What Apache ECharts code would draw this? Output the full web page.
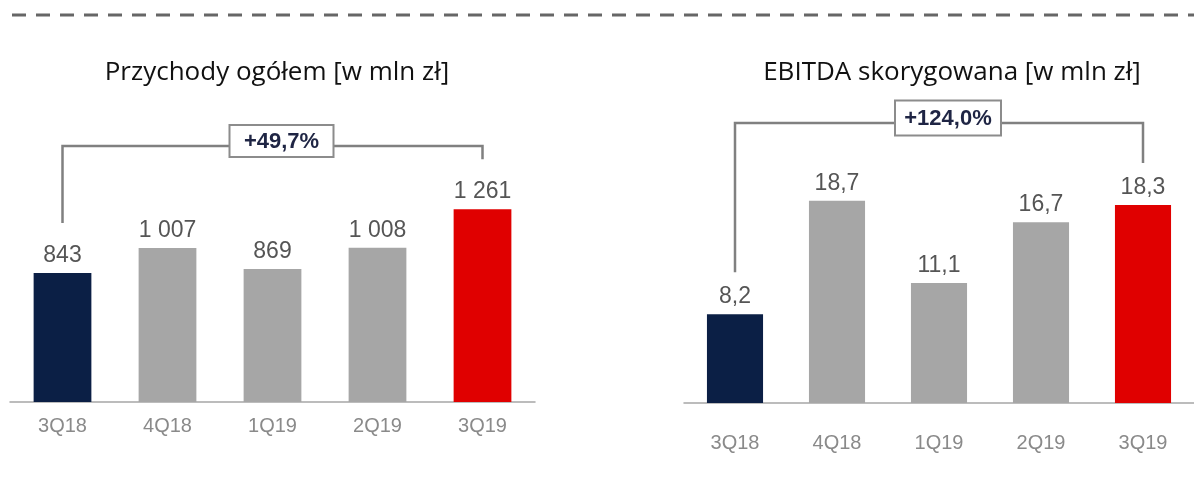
<!DOCTYPE html>
<html>
<head>
<meta charset="utf-8">
<script src="https://cdn.jsdelivr.net/npm/echarts@6/dist/echarts.min.js"></script>
<style>
  html, body { margin: 0; padding: 0; background: #fff; }
  #main { width: 1194px; height: 487px; }
</style>
</head>
<body>
<div id="main"></div>
<script>
var categories = ['3Q18', '4Q18', '1Q19', '2Q19', '3Q19'];
var revenue = [843, 1007, 869, 1008, 1261];
var ebitda = [8.2, 18.7, 11.1, 16.7, 18.3];
var revenueChange = '+49,7%';
var ebitdaChange = '+124,0%';
var barColors = ['#0b1f45', '#a6a6a6', '#a6a6a6', '#a6a6a6', '#e00000'];

// liczby po polsku: spacja tysięcy, przecinek dziesiętny
function fmtInt(v) {
  return String(v).replace(/\B(?=(\d{3})+(?!\d))/g, ' ');
}
function fmtDec(v) {
  return v.toFixed(1).replace('.', ',');
}

function barData(values) {
  return values.map(function (v, i) {
    return { value: v, itemStyle: { color: barColors[i] } };
  });
}

// klamra porównująca pierwszy i ostatni słupek
function bracket(label, gap, levelShift, boxW, boxH) {
  return function (params, api) {
    var a = api.coord([api.value(0), api.value(1)]);
    var b = api.coord([api.value(2), api.value(3)]);
    var level = params.coordSys.y + levelShift;
    var cx = (a[0] + b[0]) / 2 + 9;
    var cy = level - 5;
    return {
      type: 'group',
      children: [{
        type: 'polyline',
        shape: { points: [[a[0], a[1] - gap], [a[0], level], [b[0], level], [b[0], b[1] - gap]] },
        style: { stroke: '#808080', lineWidth: 2.5, fill: null }
      }, {
        type: 'rect',
        shape: { x: cx - boxW / 2, y: cy - boxH / 2, width: boxW, height: boxH },
        style: { fill: '#fff', stroke: '#8c8c8c', lineWidth: 2 }
      }, {
        type: 'text',
        x: cx, y: cy + 1,
        style: {
          text: label, align: 'center', verticalAlign: 'middle',
          font: 'bold 22px "Liberation Sans", Arial, sans-serif', fill: '#1f2544'
        }
      }]
    };
  };
}

var myChart = echarts.init(document.getElementById('main'));

var valueLabel = {
  show: true, position: 'top', distance: 6,
  fontFamily: '"Liberation Sans", Arial, sans-serif', fontSize: 23, color: '#555'
};
var catLabel = {
  fontFamily: '"Liberation Sans", Arial, sans-serif', fontSize: 20, color: '#8a8a8a'
};
var titleStyle = { fontFamily: '"Open Sans", sans-serif', fontSize: 26, fontWeight: 'normal', color: '#111' };

var option = {
  animation: false,
  title: [{
    text: 'Przychody ogółem [w mln zł]', left: 272, top: 55, textAlign: 'center', textStyle: titleStyle
  }, {
    text: 'EBITDA skorygowana [w mln zł]', left: 947, top: 55, textAlign: 'center', textStyle: titleStyle
  }],
  graphic: [{
    type: 'line',
    shape: { x1: 12, y1: 15, x2: 1194, y2: 15 },
    style: { stroke: '#666', lineWidth: 3, lineDash: [14, 10] }
  }],
  grid: [
    { left: 10, width: 525, top: 142, bottom: 85 },
    { left: 684, width: 522, top: 165, bottom: 84 }
  ],
  xAxis: [{
    type: 'category', gridIndex: 0, data: categories,
    axisLine: { lineStyle: { color: '#a6a6a6', width: 1.5 } },
    axisTick: { show: false },
    axisLabel: Object.assign({ margin: 14 }, catLabel)
  }, {
    type: 'category', gridIndex: 1, data: categories,
    axisLine: { lineStyle: { color: '#a6a6a6', width: 1.5 } },
    axisTick: { show: false },
    axisLabel: Object.assign({ margin: 30 }, catLabel)
  }],
  yAxis: [
    { type: 'value', gridIndex: 0, min: 0, max: 1700, show: false },
    { type: 'value', gridIndex: 1, min: 0, max: 22, show: false }
  ],
  series: [{
    type: 'bar', xAxisIndex: 0, yAxisIndex: 0, barWidth: '55%',
    data: barData(revenue),
    label: Object.assign({ formatter: function (p) { return fmtInt(p.value); } }, valueLabel)
  }, {
    type: 'bar', xAxisIndex: 1, yAxisIndex: 1, barWidth: '55%',
    data: barData(ebitda),
    label: Object.assign({ formatter: function (p) { return fmtDec(p.value); } }, valueLabel)
  }, {
    type: 'custom', xAxisIndex: 0, yAxisIndex: 0, clip: false, silent: true,
    renderItem: bracket(revenueChange, 50, 4, 104, 32),
    data: [[0, revenue[0], 4, revenue[4]]]
  }, {
    type: 'custom', xAxisIndex: 1, yAxisIndex: 1, clip: false, silent: true,
    renderItem: bracket(ebitdaChange, 42, -42, 106, 35),
    data: [[0, ebitda[0], 4, ebitda[4]]]
  }]
};

myChart.setOption(option);
</script>
</body>
</html>
